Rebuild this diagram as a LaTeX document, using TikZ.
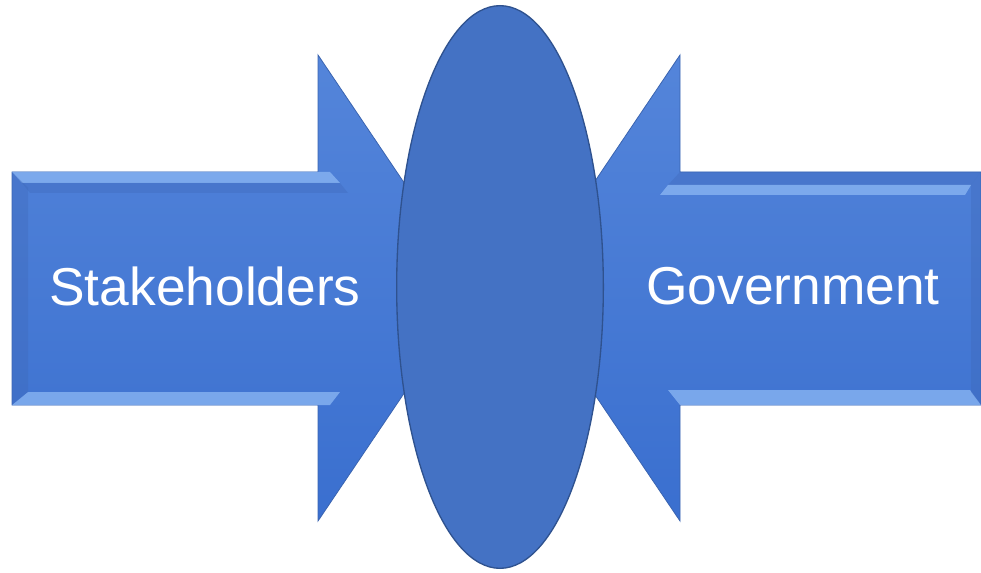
\documentclass[tikz,border=0pt]{standalone}
\usepackage{fontspec}
\setmainfont{Liberation Sans}
\usetikzlibrary{shapes.geometric}
\definecolor{arrowtop}{HTML}{5485DA}
\definecolor{arrowbot}{HTML}{3A6FCF}
\definecolor{arrowedge}{HTML}{3A64B0}
\definecolor{bevellight}{HTML}{8DB8F4}
\definecolor{beveldark}{HTML}{3F68B8}
\definecolor{ovalfill}{HTML}{4472C4}
\definecolor{ovaledge}{HTML}{2F528F}

\begin{document}
\begin{tikzpicture}[x=0.75pt,y=-0.75pt,
    arrow/.style={top color=arrowtop,bottom color=arrowbot,draw=arrowedge,line width=0.6pt},
    light/.style={fill=bevellight,opacity=0.75},
    dark/.style={fill=beveldark,opacity=0.35},
    label/.style={text=white,font=\fontsize{40}{48}\selectfont,inner sep=0pt},
    oval/.style={ellipse,fill=ovalfill,draw=ovaledge,line width=1pt,inner sep=0pt,
        minimum width=155pt,minimum height=422pt},
]
    \useasboundingbox (0,0) rectangle (981,573);

    % left arrow
    \draw[arrow] (12,172) -- (318,172) -- (318,55) -- (475,288)
        -- (318,521) -- (318,405) -- (12,405) -- cycle;
    \fill[light] (12,172) -- (330,172) -- (340,183) -- (22,183) -- cycle;
    \fill[dark] (22,183) -- (340,183) -- (348,193) -- (30,193) -- cycle;
    \fill[light] (28,392) -- (340,392) -- (330,405) -- (12,405) -- cycle;
    \fill[dark] (12,172) -- (28,188) -- (28,392) -- (12,405) -- cycle;

    % right arrow
    \draw[arrow] (981,172) -- (680,172) -- (680,55) -- (523,288)
        -- (680,521) -- (680,405) -- (981,405) -- cycle;
    \fill[dark] (680,172) -- (981,172) -- (971,185) -- (668,185) -- cycle;
    \fill[light] (668,185) -- (971,185) -- (965,195) -- (660,195) -- cycle;
    \fill[light] (668,390) -- (970,390) -- (981,405) -- (680,405) -- cycle;
    \fill[dark] (981,172) -- (971,185) -- (971,392) -- (981,405) -- cycle;

    % oval in the middle
    \node[oval] (hub) at (500,287) {};

    \node[label] (stake) at (205,286) {Stakeholders};
    \node[label] (gov) at (793,286) {Government};
\end{tikzpicture}
\end{document}
